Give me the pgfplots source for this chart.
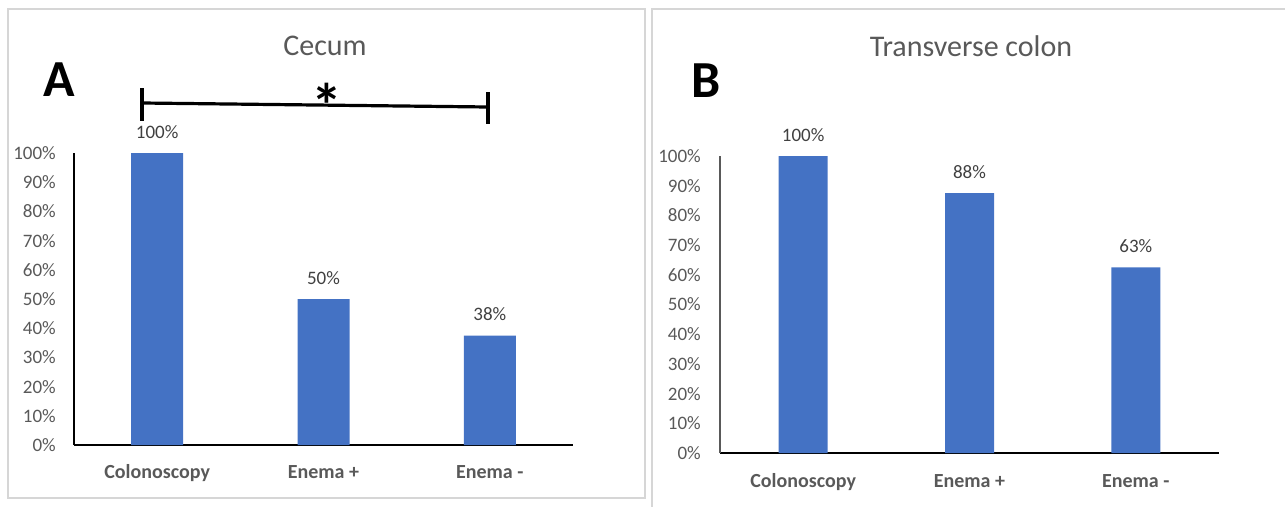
\documentclass[border=0pt]{standalone}
\usepackage{fontspec}
\setmainfont{Carlito}
\usepackage{pgfplots}
\pgfplotsset{compat=1.18}

\definecolor{barblue}{HTML}{4472C4}
\definecolor{txtgray}{HTML}{595959}
\definecolor{lblgray}{HTML}{404040}
\definecolor{framegray}{HTML}{D6D6D6}

\newcommand{\tickfont}{\fontsize{19bp}{22bp}\selectfont}
\newcommand{\catfont}{\bfseries\fontsize{20bp}{24bp}\selectfont}

\pgfplotsset{
  panel/.style={
    ybar, scale only axis, clip=false,
    width=499bp,
    xmin=-0.5, xmax=2.5, ymin=0, ymax=100,
    axis x line*=bottom, axis y line*=left,
    axis line style={-},
    x axis line style={line width=2bp, black},
    xtick={0,1,2},
    xticklabels={Colonoscopy, Enema +, Enema -},
    ytick={0,10,20,30,40,50,60,70,80,90,100},
    yticklabels={0\%,10\%,20\%,30\%,40\%,50\%,60\%,70\%,80\%,90\%,100\%},
    major tick length=0pt, tick style={draw=none},
    yticklabel style={font=\tickfont, text=txtgray, anchor=east, inner sep=0pt},
    xticklabel style={font=\catfont, text=txtgray, anchor=base},
    point meta=explicit symbolic,
    nodes near coords,
    nodes near coords style={font=\tickfont, text=lblgray, anchor=base, inner sep=0pt, yshift=15bp},
  }
}

\begin{document}
\begin{tikzpicture}
\path[use as bounding box] (0bp,0bp) rectangle (1285bp,-507bp);

% panel frames
\draw[framegray, line width=1.5bp] (8bp,-9bp) rectangle (645bp,-498bp);
\draw[framegray, line width=1.5bp] (652bp,-507bp) -- (652bp,-9bp) -- (1290bp,-9bp);

% panel A: cecum
\begin{axis}[panel,
    at={(74bp,-445bp)}, anchor=south west,
    height=292bp, bar width=52bp,
    y axis line style={line width=1.3bp, black},
    yticklabel style={xshift=-18bp},
    xticklabel style={yshift=-33bp}]
  \addplot[fill=barblue, draw=none] coordinates {
    (0,100) [100\%]
    (1,50) [50\%]
    (2,37.5) [38\%]
  };
\end{axis}

% panel B: transverse colon
\begin{axis}[panel,
    at={(720bp,-453bp)}, anchor=south west,
    height=297bp, bar width=49bp,
    y axis line style={line width=1.3bp, txtgray},
    yticklabel style={xshift=-19bp},
    xticklabel style={yshift=-34bp}]
  \addplot[fill=barblue, draw=none] coordinates {
    (0,100) [100\%]
    (1,87.5) [88\%]
    (2,62.5) [63\%]
  };
\end{axis}

% titles and panel letters
\node[font=\fontsize{30bp}{36bp}\selectfont, text=txtgray, anchor=base] at (325bp,-55bp) {Cecum};
\node[font=\fontsize{30bp}{36bp}\selectfont, text=txtgray, anchor=base] at (971bp,-56bp) {Transverse colon};
\node[font=\bfseries\fontsize{52bp}{60bp}\selectfont, anchor=base] at (59bp,-96bp) {A};
\node[font=\bfseries\fontsize{52bp}{60bp}\selectfont, anchor=base] at (706bp,-97bp) {B};

% significance bracket
\draw[line width=3.2bp] (142bp,-88bp) -- (142bp,-121bp);
\draw[line width=3.2bp] (142bp,-103bp) -- (488bp,-107bp);
\draw[line width=3.2bp] (488bp,-92bp) -- (488bp,-124bp);
\node[font=\bfseries\fontsize{62bp}{70bp}\selectfont, anchor=base, inner sep=0pt] at (327bp,-127bp) {*};
\end{tikzpicture}
\end{document}
